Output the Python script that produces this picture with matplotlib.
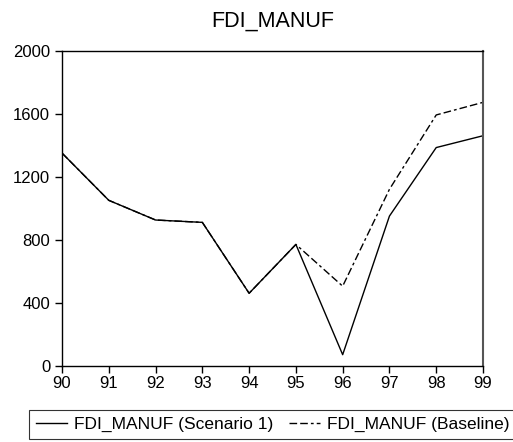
import matplotlib
matplotlib.use("Agg")
import matplotlib.pyplot as plt

plt.rcParams['font.family'] = ['Liberation Sans', 'DejaVu Sans']

years = [90, 91, 92, 93, 94, 95, 96, 97, 98, 99]
scenario1 = [1350, 1050, 925, 910, 460, 770, 70, 950, 1385, 1460]
baseline = [1350, 1050, 925, 910, 460, 770, 505, 1120, 1592, 1672]
xticklabels = ["90", "91", "92", "93", "94", "95", "96", "97", "98", "99"]
yticks = [0, 400, 800, 1200, 1600, 2000]

fig = plt.figure(figsize=(5.13, 4.42), dpi=100)
ax = fig.add_axes([0.1209, 0.1726, 0.8206, 0.7127])

l2, = ax.plot(years, baseline, color='black', lw=1.0,
              dashes=(5.5, 2.2, 5.5, 2.2, 2, 2.2),
              label='FDI_MANUF (Baseline)')
l1, = ax.plot(years, scenario1, color='black', lw=1.0,
              label='FDI_MANUF (Scenario 1)')

ax.set_xlim(90, 99)
ax.set_ylim(0, 2000)
ax.set_xticks(years)
ax.set_xticklabels(xticklabels)
ax.set_yticks(yticks)
ax.tick_params(axis='y', labelsize=12, direction='out', length=5, width=1, pad=3.5)
ax.tick_params(axis='x', labelsize=12, direction='out', length=5, width=1, pad=2.5)
for s in ax.spines.values():
    s.set_linewidth(1.0)
ax.spines['right'].set_color('#555555')
ax.spines['right'].set_linewidth(1.5)

ax.set_title('FDI_MANUF', fontsize=15.5, pad=17)

leg = fig.legend(handles=[l1, l2], loc='upper left',
                 bbox_to_anchor=(29/513, 1 - 410/442),
                 ncol=2, fontsize=12.5, frameon=True,
                 fancybox=False, edgecolor='black', handlelength=1.8,
                 handletextpad=0.4, columnspacing=0.9, borderpad=0.4,
                 borderaxespad=0)
leg.get_frame().set_linewidth(0.8)

fig.savefig('out.png', dpi=100)
